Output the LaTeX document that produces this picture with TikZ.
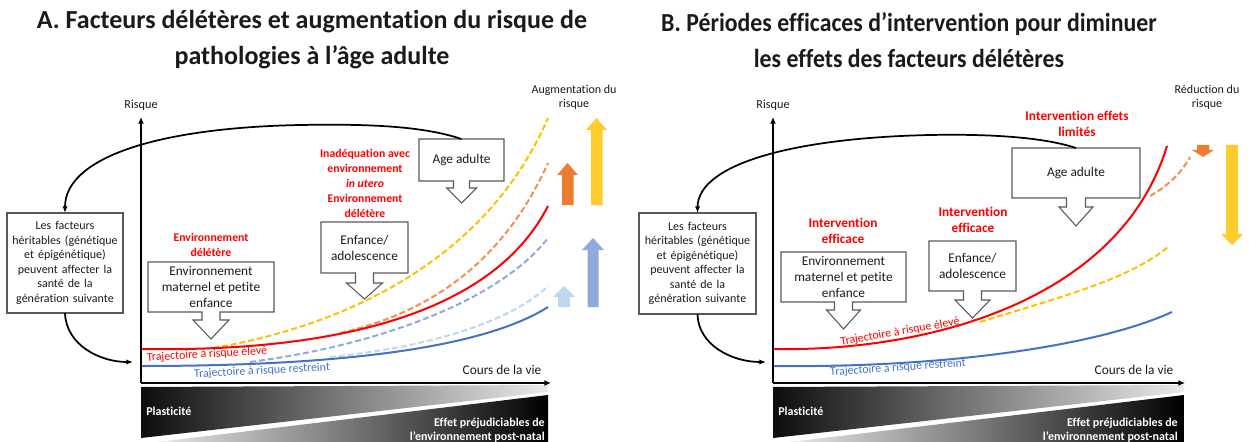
\documentclass[tikz,border=0pt]{standalone}
\usepackage{fontspec}
\setmainfont{Carlito}[Ligatures=NoCommon]
\usetikzlibrary{arrows.meta,calc}
\definecolor{myred}{HTML}{FF0000}
\definecolor{myblue}{HTML}{4472C4}
\definecolor{mylblue}{HTML}{BDD7EE}
\definecolor{mymblue}{HTML}{8FAADC}
\definecolor{myorange}{HTML}{ED7D31}
\definecolor{myyellow}{HTML}{FFC000}
\definecolor{myyellowarrow}{HTML}{FFCC2E}
\definecolor{boxgray}{HTML}{595959}
\definecolor{txt}{HTML}{1A1A1A}
\newcommand{\dnarrowbox}[5]{%
  \draw[boxline] (#1.north west) -- (#1.north east) -- (#1.south east)
   -- ($(#1.south)+(#2,0)$) -- ($(#1.south)+(#2,#4)$) -- ($(#1.south)+(#3,#4)$)
   -- ($(#1.south)+(0,#4+#5)$) -- ($(#1.south)+(-#3,#4)$) -- ($(#1.south)+(-#2,#4)$)
   -- ($(#1.south)+(-#2,0)$) -- (#1.south west) -- cycle;}
\begin{document}
\begin{tikzpicture}[x=0.75pt,y=-0.75pt,
  every node/.style={text=txt},
  titlefont/.style={font=\bfseries\fontsize{19.5}{27}\selectfont, align=center},
  boxnode/.style={inner sep=0pt, outer sep=0pt, align=center, font=\fontsize{10}{12}\selectfont},
  heritnode/.style={draw=boxgray, line width=0.8pt, inner sep=0pt, outer sep=0pt, align=center, font=\fontsize{9}{10.9}\selectfont},
  boxline/.style={draw=boxgray, line width=0.8pt},
  redlab/.style={text=myred, align=center, font=\bfseries\fontsize{8.8}{11.25}\selectfont},
  redlabB/.style={text=myred, align=center, font=\bfseries\fontsize{10}{12}\selectfont},
  smalllab/.style={align=center, font=\fontsize{9}{10.5}\selectfont},
  axislab/.style={font=\fontsize{10}{12}\selectfont},
  risklab/.style={font=\fontsize{9.2}{11}\selectfont},
  trajlab/.style={font=\fontsize{8.9}{10}\selectfont, inner sep=0pt},
  axisline/.style={line width=1.5pt, -{Latex[length=5pt,width=4.5pt]}},
  loop/.style={line width=1.3pt, -{Latex[length=5pt,width=4pt]}},
  solidc/.style={line width=1.5pt},
  dashc/.style={line width=1.5pt, dash pattern=on 4.5pt off 2.2pt},
  wedgetxt/.style={text=white, font=\bfseries\fontsize{9}{10.5}\selectfont, inner sep=0pt}
]
\useasboundingbox (0,0) rectangle (1249,442);

% ================= PANEL A =================
\node[titlefont] (titleA) at (312,40) {A. Facteurs délétères et augmentation du risque de\\pathologies à l’âge adulte};

% wedges
\shade[left color=black!95, right color=black!8] (141,387) -- (548,385) -- (548,392) -- (141,438) -- cycle;
\shade[left color=black!5, right color=black] (141,444) -- (548,395) -- (548,444) -- cycle;
\node[wedgetxt, anchor=west] (plastA) at (146,411) {Plasticité};
\node[wedgetxt, anchor=east, align=right] (effA) at (545,430) {Effet préjudiciables de\\l’environnement post-natal};

% curves
\draw[dashc, mylblue] (330,357) .. controls (430,347) and (510,322) .. (548,286);
\draw[dashc, mymblue] (250,362) .. controls (380,345) and (500,300) .. (548,238);
\draw[solidc, myblue] (141,366) .. controls (330,366) and (480,350) .. (548,307);
\draw[dashc, myyellow] (213,348) .. controls (320,330) and (480,275) .. (548,118);
\draw[dashc, myorange!85] (340,333) .. controls (420,315) and (500,270) .. (548,163);
\draw[solidc, myred] (141,349) .. controls (320,352) and (490,320) .. (548,206);

% axes
\coordinate (originA) at (141,383);
\draw[axisline] (originA) -- (141,117);
\draw[axisline] (originA) -- (551,383);
\node[risklab] (risqueA) at (141,105) {Risque};
\node[axislab, anchor=east] (coursA) at (546,370) {Cours de la vie};

% trajectory labels
\node[trajlab, text=myred, rotate=3.3] (trajA1) at (207,354.5) {Trajectoire à risque élevé};
\node[trajlab, text=myblue, rotate=3] (trajA2) at (262,371) {Trajectoire à risque restreint};

% risk arrows
\fill[myyellowarrow] (591,205) -- (591,130) -- (586,130) -- (596.5,118) -- (607,130) -- (602.5,130) -- (602.5,205) -- cycle;
\fill[myorange] (562,205) -- (562,175) -- (557,175) -- (567.5,163) -- (578,175) -- (573.5,175) -- (573.5,205) -- cycle;
\fill[mymblue] (587.5,307) -- (587.5,250) -- (582,250) -- (593,238) -- (604,250) -- (598.5,250) -- (598.5,307) -- cycle;
\fill[mylblue] (558,307) -- (558,297) -- (553,297) -- (564,286) -- (575,297) -- (570,297) -- (570,307) -- cycle;
\node[smalllab] (augA) at (574,97) {Augmentation du\\risque};

% boxes
\node[heritnode, minimum width=87pt, minimum height=75pt, text width=82.5pt] (heritA) at (65,263) {Les facteurs\\héritables (génétique\\et épigénétique)\\peuvent affecter la\\santé de la\\génération suivante};
\node[boxnode, minimum width=94.5pt, minimum height=37.5pt] (envA) at (211,287) {Environnement\\maternel et petite\\enfance};
\dnarrowbox{envA}{9}{18}{8}{19}
\node[boxnode, minimum width=65.25pt, minimum height=38.25pt] (enfA) at (364.5,247.5) {Enfance/\\adolescence};
\dnarrowbox{enfA}{9}{18}{10}{16}
\node[boxnode, minimum width=63.75pt, minimum height=31.5pt] (ageA) at (461.5,160) {Age adulte};
\dnarrowbox{ageA}{8}{15}{7}{15}

\node[redlab] (redA1) at (211,244.5) {Environnement\\délétère};
\node[redlab] (redA2) at (365,183) {Inadéquation avec\\environnement\\\textit{in utero}\\Environnement\\délétère};

% loops
\coordinate (inA) at (133,362);
\draw[loop] (ageA.north) .. controls (420,125) and (360,124) .. (300,125) .. controls (150,128) and (65,160) .. (heritA.north);
\draw[loop] (heritA.south) .. controls (66,345) and (100,362) .. (inA);

% ================= PANEL B =================
\node[titlefont, font=\bfseries\fontsize{19.5}{27}\selectfont\addfontfeatures{FakeStretch=0.915}] (titleB) at (909,40) {B. Périodes efficaces d’intervention pour diminuer\\les effets des facteurs délétères};

\shade[left color=black!95, right color=black!8] (773,387) -- (1184,385) -- (1184,392) -- (773,438) -- cycle;
\shade[left color=black!5, right color=black] (773,444) -- (1184,395) -- (1184,444) -- cycle;
\node[wedgetxt, anchor=west] (plastB) at (778,411) {Plasticité};
\node[wedgetxt, anchor=east, align=right] (effB) at (1178,430) {Effet préjudiciables de\\l’environnement post-natal};

\draw[solidc, myblue] (773,366) .. controls (950,368) and (1100,345) .. (1172,312);
\draw[dashc, myyellow] (980,322) .. controls (1050,300) and (1130,280) .. (1169,246);
\draw[dashc, myorange!85] (1150,196) .. controls (1168,186) and (1182,172) .. (1190,157);
\draw[solidc, myred] (773,349) .. controls (930,352) and (1120,300) .. (1167,146);

\coordinate (originB) at (773,383);
\draw[axisline] (originB) -- (773,117);
\draw[axisline] (originB) -- (1185,383);
\node[risklab] (risqueB) at (773,105) {Risque};
\node[axislab, anchor=east] (coursB) at (1178,370) {Cours de la vie};

\node[trajlab, text=myred, rotate=10] (trajB1) at (900,332) {Trajectoire à risque élevé};
\node[trajlab, text=myblue, rotate=4] (trajB2) at (898,368) {Trajectoire à risque restreint};

\fill[myorange] (1197,145) -- (1209,145) -- (1209,150) -- (1214,150) -- (1203,157) -- (1192,150) -- (1197,150) -- cycle;
\fill[myyellowarrow] (1226,145) -- (1238,145) -- (1238,234) -- (1243,234) -- (1232,245) -- (1221,234) -- (1226,234) -- cycle;
\node[smalllab] (redu) at (1207,97) {Réduction du\\risque};

\node[heritnode, minimum width=87.75pt, minimum height=75.75pt, text width=82.5pt] (heritB) at (697.5,263.5) {Les facteurs\\héritables (génétique\\et épigénétique)\\peuvent affecter la\\santé de la\\génération suivante};
\node[boxnode, minimum width=93.75pt, minimum height=37.5pt] (envB) at (843.5,277) {Environnement\\maternel et petite\\enfance};
\dnarrowbox{envB}{9}{17}{8}{19}
\node[boxnode, minimum width=65.25pt, minimum height=37.5pt] (enfB) at (972.5,266) {Enfance/\\adolescence};
\dnarrowbox{enfB}{9}{17.5}{9}{18}
\node[boxnode, minimum width=96pt, minimum height=37.5pt] (ageB) at (1076,173) {Age adulte};
\dnarrowbox{ageB}{9.5}{17}{9}{19}

\node[redlabB] (redB1) at (843,230.5) {Intervention\\efficace};
\node[redlabB] (redB2) at (973,220) {Intervention\\efficace};
\node[redlabB] (redB3) at (1077,123.5) {Intervention effets\\limités};

\coordinate (inB) at (766,362);
\draw[loop] (ageB.north) .. controls (1040,136) and (980,134) .. (930,135) .. controls (790,138) and (698,165) .. (heritB.north);
\draw[loop] (heritB.south) .. controls (698,345) and (732,362) .. (inB);
\end{tikzpicture}
\end{document}
